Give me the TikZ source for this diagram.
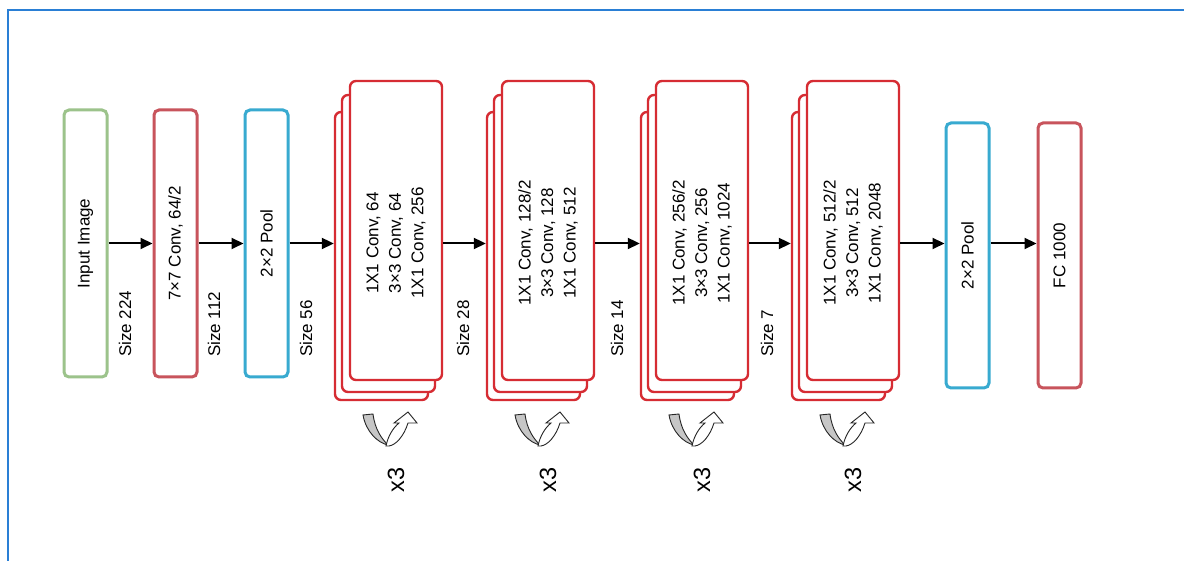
\documentclass[tikz,border=0pt]{standalone}
\usepackage{fontspec}
\setmainfont{Liberation Sans}
\usetikzlibrary{arrows.meta}
\definecolor{frameblue}{HTML}{2A7FD5}
\definecolor{ingreen}{HTML}{9CC38B}
\definecolor{convred}{HTML}{C8545C}
\definecolor{poolblue}{HTML}{38AAD0}
\definecolor{stackred}{HTML}{D62C33}
\tikzset{
  sbox/.style={draw, line width=3pt, rounded corners=5pt, minimum width=43pt, inner sep=0pt, fill=white},
  layer/.style={draw=stackred, line width=2.4pt, rounded corners=6pt, inner sep=0pt, fill=white},
  txt/.style={rotate=90, inner sep=0pt, align=center, font=\fontsize{17}{22.5}\selectfont},
  sizelbl/.style={rotate=90, anchor=west, inner sep=0pt, font=\fontsize{17}{20}\selectfont},
  rep/.style={rotate=90, inner sep=0pt, font=\fontsize{23.5}{26}\selectfont},
  arr/.style={line width=2pt, -{Triangle[length=12pt,width=11pt]}},
  loopicon/.pic={
    \draw[line width=0.9pt, fill=gray!45, draw=black!85] (0,31) -- (10,32) .. controls (12,16) and (19,7) .. (25,1) .. controls (15,3) and (3,14) .. (0,31) -- cycle;
    \draw[line width=0.9pt, fill=white, draw=black!85] (23,0) .. controls (25,10) and (30,18) .. (36,23) -- (31,23) -- (45,34) -- (54,23) -- (45,23) .. controls (41,10) and (33,1) .. (26,0) -- cycle;
  }
}
\begin{document}
\begin{tikzpicture}[x=1pt,y=1pt]
\useasboundingbox (0,0) rectangle (1184,561);
\clip (0,0) rectangle (1184,561);
\fill[white] (0,0) rectangle (1184,561);
\draw[frameblue, line width=2pt] (1200,551) -- (7.5,551) -- (7.5,-20);

% single boxes
\node[sbox, draw=ingreen, minimum height=267pt] (in) at (85.5,317.5) {};
\node[txt] (in-t) at (in.center) {Input Image};
\node[sbox, draw=convred, minimum height=267pt] (c7) at (175.5,317.5) {};
\node[txt] (c7-t) at (c7.center) {7×7 Conv, 64/2};
\node[sbox, draw=poolblue, minimum height=267pt] (p1) at (266.5,317.5) {};
\node[txt] (p1-t) at (p1.center) {2×2 Pool};
\node[sbox, draw=poolblue, minimum height=265pt] (p2) at (967.5,305.5) {};
\node[txt] (p2-t) at (p2.center) {2×2 Pool};
\node[sbox, draw=convred, minimum height=265pt] (fc) at (1059.5,305.5) {};
\node[txt] (fc-t) at (fc.center) {FC 1000};

% stacks
\foreach \i/\X/\t in {
  1/350/{1X1 Conv, 64\\3×3 Conv, 64\\1X1 Conv, 256},
  2/502/{1X1 Conv, 128/2\\3×3 Conv, 128\\1X1 Conv, 512},
  3/656/{1X1 Conv, 256/2\\3×3 Conv, 256\\1X1 Conv, 1024},
  4/807/{1X1 Conv, 512/2\\3×3 Conv, 512\\1X1 Conv, 2048}}{
  \node[layer, minimum width=93pt, minimum height=288pt] (s\i b) at (\X+31.5,305) {};
  \node[layer, minimum width=93pt, minimum height=297pt] (s\i m) at (\X+38.5,317.5) {};
  \node[layer, minimum width=92pt, minimum height=299pt] (s\i f) at (\X+46,330.5) {};
  \node[txt] (s\i t) at (\X+46,318) {\t};
  \pic at (\X+13,115) {loopicon};
  \node[rep] (x\i) at (\X+46,81) {x3};
}

% arrows
\draw[arr] (in.east) -- (c7.west);
\draw[arr] (c7.east) -- (p1.west);
\draw[arr] (p1.east) -- (p1.east -| s1b.west);
\draw[arr] (s1f.east |- p1.east) -- (s2b.west |- p1.east);
\draw[arr] (s2f.east |- p1.east) -- (s3b.west |- p1.east);
\draw[arr] (s3f.east |- p1.east) -- (s4b.west |- p1.east);
\draw[arr] (s4f.east |- p1.east) -- (p2.west |- p1.east);
\draw[arr] (p2.east |- p1.east) -- (fc.west |- p1.east);

% size labels
\node[sizelbl] (z1) at (125,204) {Size 224};
\node[sizelbl] (z2) at (214,204) {Size 112};
\node[sizelbl] (z3) at (306,204) {Size 56};
\node[sizelbl] (z4) at (463,204) {Size 28};
\node[sizelbl] (z5) at (617,204) {Size 14};
\node[sizelbl] (z6) at (767,204) {Size 7};
\end{tikzpicture}
\end{document}
